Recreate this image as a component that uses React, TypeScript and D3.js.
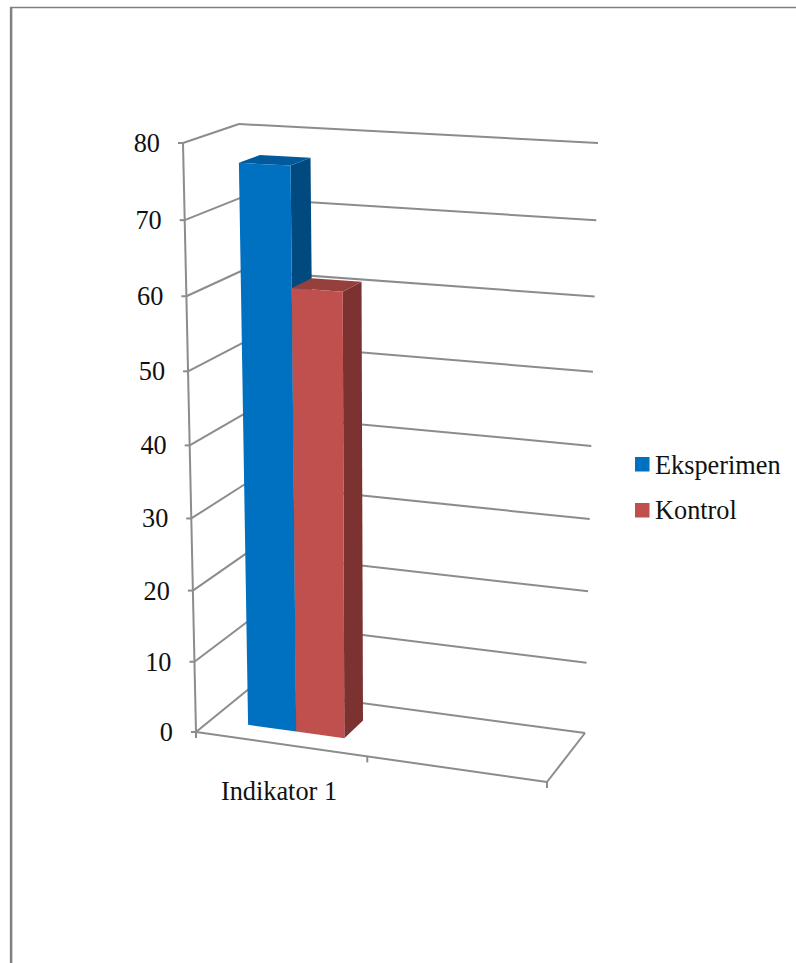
import React from "react";
import * as d3 from "d3";

const categories = ["Indikator 1", ""];
const seriesNames = ["Eksperimen", "Kontrol"];
const eksperimen = [77];
const kontrol = [61];
const axisTicks = [0, 10, 20, 30, 40, 50, 60, 70, 80];

const seriesColors = [
  { front: "#0070C0", top: "#005A9C", side: "#004A80" },
  { front: "#C0504D", top: "#95403D", side: "#7B3230" },
];
const GRID = "#8c8c8c";
const FONT = "'Liberation Serif', 'Times New Roman', serif";

// Image positions of the eight corners of the 3D plot box.
const box = {
  floor: { fl: [196, 732], fr: [547, 782], bl: [250, 688], br: [585, 733] },
  roof: { fl: [183, 143], fr: [562, 162], bl: [239, 124], br: [598, 143] },
};

const maxValue = 80;
const perspective = 0.055;
// Height along a vertical box edge foreshortens slightly toward the top.
const heightScale = (v: number) => {
  const t = v / maxValue;
  return t / (1 + perspective * (1 - t));
};
const lerp = (a: number, b: number, t: number) => d3.interpolateNumber(a, b)(t);

// u runs along the category axis, w runs from front (0) to back (1).
function project(u: number, v: number, w: number): [number, number] {
  const f = heightScale(v);
  const at = (c: typeof box.floor, i: number) =>
    lerp(lerp(c.fl[i], c.fr[i], u), lerp(c.bl[i], c.br[i], u), w);
  return [
    lerp(at(box.floor, 0), at(box.roof, 0), f),
    lerp(at(box.floor, 1), at(box.roof, 1), f),
  ];
}

const categoryBand = d3.scaleBand<string>().domain(categories).range([0, 1]);
const seriesBand = d3
  .scaleBand<string>()
  .domain(seriesNames)
  .range([0, categoryBand.bandwidth()])
  .paddingOuter(0.8)
  .paddingInner(0)
  .align(0.48);
const depthFront = 0.28;
const depthBack = 0.67;
// The middle category boundary sits a little left of halfway because of the perspective.
const categoryTicks = [0, 0.488, 1];

const poly = (pts: [number, number][]) => (d3.line()(pts) ?? "") + "Z";

function Bar({ name, value, colors }: { name: string; value: number; colors: (typeof seriesColors)[number] }) {
  const u0 = categoryBand(categories[0])! + seriesBand(name)!;
  const u1 = u0 + seriesBand.bandwidth();
  const front = poly([project(u0, 0, depthFront), project(u1, 0, depthFront), project(u1, value, depthFront), project(u0, value, depthFront)]);
  const side = poly([project(u1, 0, depthFront), project(u1, 0, depthBack), project(u1, value, depthBack), project(u1, value, depthFront)]);
  const top = poly([project(u0, value, depthFront), project(u1, value, depthFront), project(u1, value, depthBack), project(u0, value, depthBack)]);
  return (
    <g>
      <path d={side} fill={colors.side} />
      <path d={top} fill={colors.top} />
      <path d={front} fill={colors.front} />
    </g>
  );
}

export default function App() {
  const segment = (a: [number, number], b: [number, number], key: string) => (
    <line key={key} x1={a[0]} y1={a[1]} x2={b[0]} y2={b[1]} stroke={GRID} strokeWidth={2} />
  );

  return (
    <svg
      width={796}
      height={963}
      viewBox="0 0 796 963"
      style={{ position: "absolute", left: 0, top: 0, display: "block", background: "#fff" }}
    >
      {/* page frame */}
      <line x1={10} y1={7.6} x2={796} y2={7.6} stroke="#808080" strokeWidth={1.5} />
      <line x1={11.1} y1={7} x2={11.1} y2={963} stroke="#808080" strokeWidth={2.5} />

      {/* side wall and back wall gridlines */}
      {axisTicks.map((t) => (
        <g key={t}>
          {segment(project(0, t, 0), project(0, t, 1), `s${t}`)}
          {segment(project(0, t, 1), project(1, t, 1), `b${t}`)}
          {segment([project(0, t, 0)[0] - 5, project(0, t, 0)[1]], project(0, t, 0), `k${t}`)}
          <text
            x={project(0, t, 0)[0] - 23}
            y={project(0, t, 0)[1] + 9}
            textAnchor="end"
            fontFamily={FONT}
            fontSize={26.3}
            fill="#111"
          >
            {t}
          </text>
        </g>
      ))}

      {/* value axis and floor edges */}
      {segment(project(0, 0, 0), project(0, maxValue, 0), "axis")}
      {segment(project(0, 0, 0), project(1, 0, 0), "floor-front")}
      {segment(project(1, 0, 0), project(1, 0, 1), "floor-right")}
      {categoryTicks.map((u) => {
        const p = project(u, 0, 0);
        return segment(p, [p[0], p[1] + 6], `c${u}`);
      })}

      <Bar name={seriesNames[0]} value={eksperimen[0]} colors={seriesColors[0]} />
      <Bar name={seriesNames[1]} value={kontrol[0]} colors={seriesColors[1]} />

      <text x={279} y={800} textAnchor="middle" fontFamily={FONT} fontSize={26.3} fill="#111">
        {categories[0]}
      </text>

      {/* legend */}
      {seriesNames.map((name, i) => (
        <g key={name} transform={`translate(635,${457 + i * 46})`}>
          <rect width={14.5} height={14.5} fill={seriesColors[i].front} />
          <text x={20} y={16.5 - i} fontFamily={FONT} fontSize={26.3} fill="#111">
            {name}
          </text>
        </g>
      ))}
    </svg>
  );
}
